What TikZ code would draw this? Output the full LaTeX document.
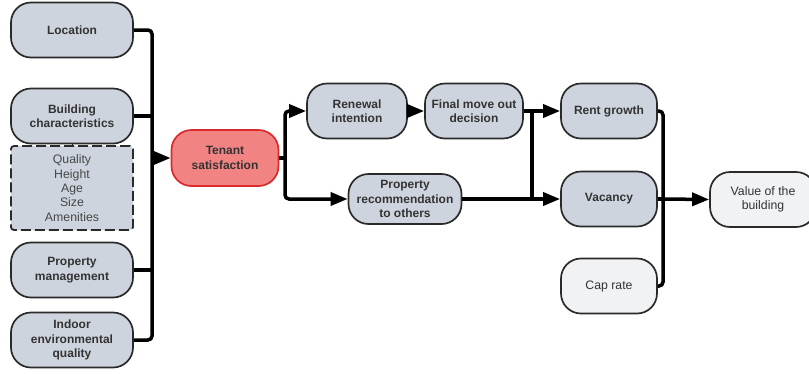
\documentclass[tikz,border=0pt]{standalone}
\usepackage{fontspec}
\setmainfont{Liberation Sans}
\usetikzlibrary{arrows.meta}
\definecolor{gfill}{HTML}{CED4DE}
\definecolor{lfill}{HTML}{F1F2F4}
\definecolor{rfill}{HTML}{F28383}
\definecolor{rdraw}{HTML}{D92B2B}
\definecolor{txt}{HTML}{333333}
\definecolor{edge}{HTML}{2A2A2A}
\tikzset{
  pill/.style={draw=edge, line width=1.7pt, rounded corners=20pt, fill=gfill,
    minimum height=55pt, inner sep=0pt, align=center, text=txt,
    font=\fontsize{12}{14.3}\selectfont\bfseries},
  lpill/.style={pill, fill=lfill, font=\fontsize{12.3}{14.3}\selectfont},
  rpill/.style={pill, fill=rfill, draw=rdraw},
  dbox/.style={draw=edge, line width=1.8pt, dash pattern=on 10pt off 4pt,
    rounded corners=3pt, fill=gfill, minimum width=122pt, minimum height=84pt,
    inner sep=0pt, align=center, text=txt!90,
    font=\fontsize{12.3}{14.3}\selectfont},
  conn/.style={line width=3.5pt, draw=black, rounded corners=4pt},
  arr/.style={conn, -{Triangle[length=17pt,width=13pt]}},
}
\begin{document}
\begin{tikzpicture}[x=1pt,y=-1pt]
\useasboundingbox (0,0) rectangle (809,373);
% left column
\node[pill, minimum width=122pt] (loc) at (72,30) {Location};
\node[pill, minimum width=122pt] (bc) at (72,116) {Building\\characteristics};
\node[dbox] (dq) at (72,188) {Quality\\Height\\Age\\Size\\Amenities};
\node[pill, minimum width=122pt] (pm) at (72,270) {Property\\management};
\node[pill, minimum width=122pt] (ieq) at (72,340) {Indoor\\environmental\\quality};
% middle
\node[rpill, minimum width=107pt, minimum height=56pt] (ts) at (225,158) {Tenant\\satisfaction};
\node[pill, minimum width=100pt] (ren) at (357,111) {Renewal\\intention};
\node[pill, minimum width=98pt] (fmd) at (474,111) {Final move out\\decision};
\node[pill, minimum width=113pt, minimum height=50pt] (prc) at (405,199) {Property\\recommendation\\to others};
% right
\node[pill, minimum width=96pt] (rg) at (609,111) {Rent growth};
\node[pill, minimum width=96pt] (vac) at (609,199) {Vacancy};
\node[lpill, minimum width=96pt] (cr) at (609,286) {Cap rate};
\node[lpill, minimum width=106pt] (val) at (763,199.5) {Value of the\\building};
% coordinates
\coordinate (busL) at (152,185);
\coordinate (sp) at (285,158);
\coordinate (j1) at (532,111);
\coordinate (j2) at (532,199);
\coordinate (busR) at (663,199);
% left bus
\draw[line width=1pt, draw=edge] (bc.south) -- (dq.north);
\draw[conn] (loc.east) -| (busL) |- (ieq.east);
\draw[conn] (bc.east) -- (bc.east -| busL);
\draw[conn] (pm.east) -- (pm.east -| busL);
\draw[arr] (busL |- ts.west) -- (ts.west);
% split after tenant satisfaction
\draw[conn] (ts.east) -- (sp);
\draw[arr] (sp) |- (ren.west);
\draw[arr] (sp) |- (prc.west);
\draw[arr, rounded corners=0pt] (ren.east) -- (fmd.west);
% to rent growth / vacancy
\draw[arr, rounded corners=0pt] (fmd.east) -- (rg.west);
\draw[arr, rounded corners=0pt] (prc.east) -- (vac.west);
\draw[conn, rounded corners=0pt] (j1) -- (j2);
% right bus
\draw[conn] (rg.east) -| (busR) |- (cr.east);
\draw[conn, rounded corners=0pt] (vac.east) -- (busR);
\draw[arr, rounded corners=0pt] (busR) -- (val.west);
\end{tikzpicture}
\end{document}
